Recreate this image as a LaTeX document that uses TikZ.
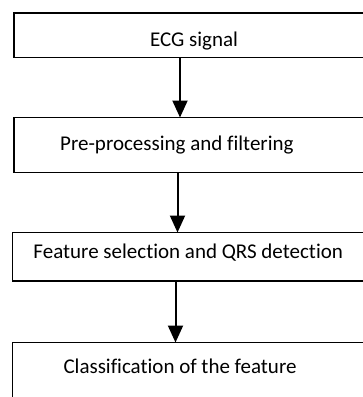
\documentclass[tikz,border=0pt]{standalone}
\usepackage{fontspec}
\setmainfont{Carlito}[Ligatures=NoCommon]
\usetikzlibrary{arrows.meta}

\tikzset{
  stage/.style={draw, line width=1.5pt, rectangle, inner sep=0pt, outer sep=0pt,
    anchor=north west, minimum width=360pt},
  caption/.style={anchor=base west, inner sep=0pt, font=\fontsize{21}{25}\selectfont},
  flow/.style={line width=2pt, -{Triangle[length=17pt,width=15pt]}}
}

\begin{document}
\begin{tikzpicture}[x=1pt, y=-1pt]
  \clip (0,0) rectangle (363,397);
  \fill[white] (0,0) rectangle (363,397);

  % process stages
  \node[stage, minimum height=44.5pt] (b1) at (14,13) {};
  \node[stage, minimum height=55pt]   (b2) at (14,117.5) {};
  \node[stage, minimum height=48.5pt] (b3) at (12.5,232.5) {};
  \node[stage, minimum height=80pt]   (b4) at (12.5,342.5) {};

  % stage captions
  \node[caption] (t1) at (150,46.7)  {ECG signal};
  \node[caption] (t2) at (60,150)    {Pre-processing and filtering};
  \node[caption] (t3) at (33.3,258.3) {Feature selection and QRS detection};
  \node[caption] (t4) at (63.3,373.3) {Classification of the feature};

  % arrow columns
  \coordinate (c1) at (180,0);
  \coordinate (c2) at (177.5,0);
  \coordinate (c3) at (175.5,0);

  \draw[flow] (b1.south -| c1) -- (b2.north -| c1);
  \draw[flow] (b2.south -| c2) -- (b3.north -| c2);
  \draw[flow] (b3.south -| c3) -- (b4.north -| c3);
\end{tikzpicture}
\end{document}
